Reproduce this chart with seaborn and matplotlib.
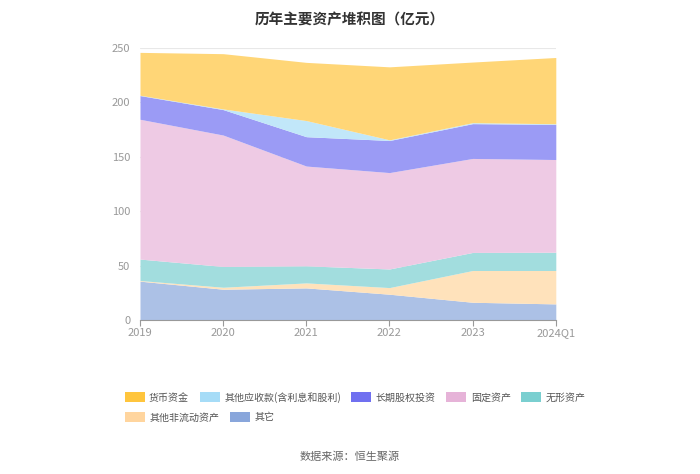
import matplotlib
matplotlib.use("Agg")
import matplotlib.pyplot as plt
import matplotlib.colors as mcolors
import seaborn as sns
import numpy as np
import pandas as pd
from matplotlib.patches import Rectangle

years = ["2019", "2020", "2021", "2022", "2023", "2024Q1"]
other = [35.7, 28.3, 29.5, 23.7, 16.3, 14.8]
other_noncurrent = [0.6, 1.8, 4.6, 6.1, 29.2, 30.7]
intangible = [19.7, 19.1, 15.7, 17.1, 16.6, 16.8]
fixed = [128.5, 120.8, 91.7, 88.6, 86.4, 85.2]
lt_equity = [21.8, 23.4, 27.0, 29.5, 32.0, 32.3]
other_recv = [0.3, 0.6, 14.8, 0.6, 0.9, 0.6]
cash = [39.4, 50.8, 53.5, 67.1, 55.7, 60.9]

labels = ["货币资金", "其他应收款(含利息和股利)", "长期股权投资", "固定资产", "无形资产", "其他非流动资产", "其它"]
colors = ["#FFC53D", "#A6DCF7", "#7070F0", "#E6B3D8", "#7ACFD0", "#FFD59E", "#89A6DB"]

df = pd.DataFrame({
    "year": years,
    "其它": other,
    "其他非流动资产": other_noncurrent,
    "无形资产": intangible,
    "固定资产": fixed,
    "长期股权投资": lt_equity,
    "其他应收款(含利息和股利)": other_recv,
    "货币资金": cash,
})

sns.set_theme(style="white")
plt.rcParams['font.family'] = ['Noto Sans CJK SC', 'DejaVu Sans']

def lighten(c, a=0.7):
    r, g, b = mcolors.to_rgb(c)
    return (r * a + (1 - a), g * a + (1 - a), b * a + (1 - a))

fig = plt.figure(figsize=(7.0, 4.74), dpi=100)
ax = fig.add_axes([0.2, 0.3249, 0.594, 0.5738])

stack_order = ["其它", "其他非流动资产", "无形资产", "固定资产", "长期股权投资", "其他应收款(含利息和股利)", "货币资金"]
color_map = dict(zip(labels, colors))
x = np.arange(len(years))
ax.stackplot(x, [df[c].values for c in stack_order],
             colors=[lighten(color_map[c]) for c in stack_order], linewidth=0, zorder=2)

ax.set_xlim(0, len(years) - 1)
ax.set_ylim(0, 250)
ax.set_yticks([0, 50, 100, 150, 200, 250])
ax.set_xticks(x)
ax.set_xticklabels(years)
ax.yaxis.grid(True, color="#E8E8E8", linewidth=0.8, zorder=0)
ax.set_axisbelow(True)
for s in ["left", "right", "top"]:
    ax.spines[s].set_visible(False)
ax.spines["bottom"].set_color("#999999")
ax.spines["bottom"].set_linewidth(0.8)
ax.spines["bottom"].set_zorder(3)
ax.tick_params(axis="x", colors="#999999", labelsize=8, length=4, width=0.8, direction="out", pad=2, bottom=True)
ax.tick_params(axis="y", colors="#999999", labelsize=8, length=0, pad=7)
for t in ax.get_xticklabels() + ax.get_yticklabels():
    t.set_color("#999999")

fig.text(0.5, 0.975, "历年主要资产堆积图（亿元）", ha="center", va="top", fontsize=10.5,
         fontweight="bold", color="#333333")

def handles_for(names):
    return [Rectangle((0, 0), 1, 1, facecolor=color_map[n], edgecolor="none") for n in names]

row1 = labels[:5]
row2 = labels[5:]
common = dict(frameon=False, fontsize=7.2, handlelength=2.0, handleheight=1.2,
              columnspacing=1.05, handletextpad=0.45, labelcolor="#555555",
              borderpad=0, borderaxespad=0)
fig.legend(handles_for(row1), row1, loc="center left", bbox_to_anchor=(0.178, 0.162), ncol=5, **common)
fig.legend(handles_for(row2), row2, loc="center left", bbox_to_anchor=(0.178, 0.12), ncol=2, **common)

fig.text(0.5, 0.036, "数据来源：恒生聚源", ha="center", va="center", fontsize=8, color="#666666")

fig.savefig("out.png", dpi=100)
